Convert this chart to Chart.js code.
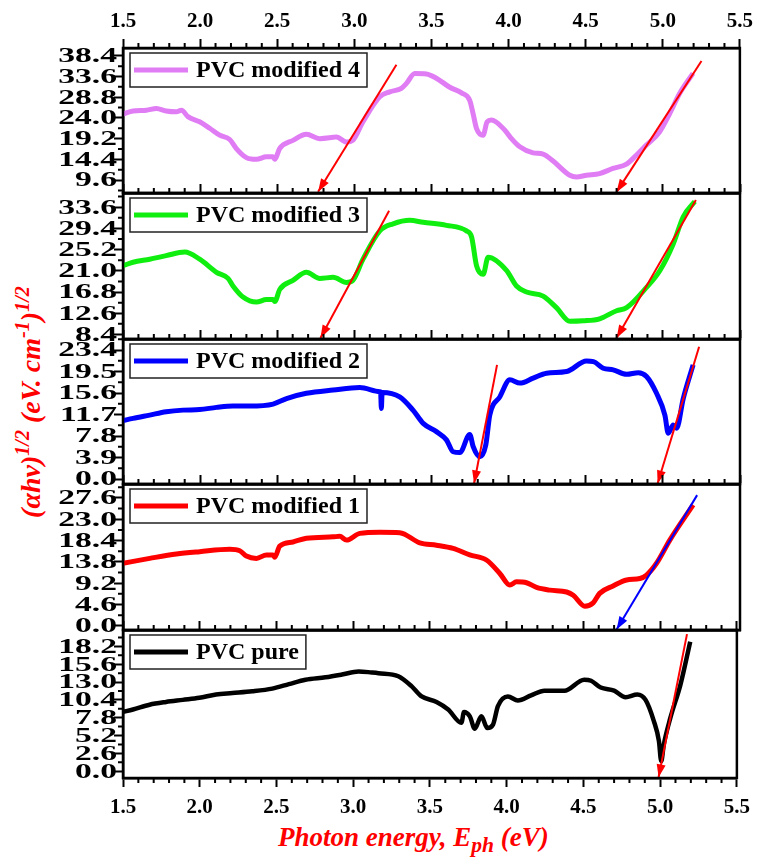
<!DOCTYPE html>
<html>
<head>
<meta charset="utf-8">
<script src="https://cdn.jsdelivr.net/npm/chart.js@4.4.1/dist/chart.umd.min.js"></script>
<style>
    body { margin: 0; background: #fff; width: 758px; height: 859px; position: relative; overflow: hidden; }
    canvas { position: absolute; left: 0; }
    .title { position: absolute; color: #f00; font: bold italic 28px "Liberation Serif", serif; white-space: nowrap; }
    #y-title { left: 29px; top: 402px; transform: translate(-50%, -50%) rotate(-90deg); }
    #x-title { left: 278px; top: 824px; font-size: 27px; line-height: 27px; }
    sup { font-size: 72%; }
    sub { font-size: 80%; }
</style>
</head>
<body>
<div class="title" id="y-title">(αhν)<sup>1/2</sup> (eV. cm<sup>-1</sup>)<sup>1/2</sup></div>
<div class="title" id="x-title">Photon energy, E<sub>ph</sub> (eV)</div>
<script>
// shared x axis
const xTicks = [1.5, 2.0, 2.5, 3.0, 3.5, 4.0, 4.5, 5.0, 5.5];

// PVC modified 4
const mod4X = [1.50, 1.565, 1.652, 1.717, 1.78, 1.846, 1.879, 1.921, 1.997, 2.062, 2.127, 2.192, 2.235, 2.30, 2.365, 2.43, 2.473, 2.484, 2.516, 2.602, 2.689, 2.776, 2.862, 2.884, 2.949, 2.99, 3.056, 3.165, 3.23, 3.305, 3.338, 3.392, 3.467, 3.532, 3.619, 3.695, 3.748, 3.77, 3.792, 3.835, 3.861, 3.889, 3.975, 4.019, 4.073, 4.159, 4.224, 4.289, 4.397, 4.44, 4.505, 4.59, 4.677, 4.765, 4.83, 4.894, 4.98, 5.045, 5.11, 5.196];
const mod4Y = [24.9, 25.6, 25.8, 26.2, 25.6, 25.4, 25.8, 24.3, 23.1, 21.6, 20.0, 19.0, 16.9, 14.8, 14.4, 15.0, 15.0, 14.4, 16.9, 18.8, 20.2, 19.2, 19.5, 19.6, 18.4, 18.8, 23.1, 28.9, 30.05, 30.85, 32.0, 34.3, 34.2, 33.2, 31.1, 29.8, 28.1, 25.0, 21.6, 20.0, 23.1, 23.5, 21.2, 19.2, 17.3, 15.9, 15.6, 14.0, 10.7, 10.3, 10.7, 11.1, 12.3, 13.3, 15.4, 17.7, 20.8, 25.0, 29.7, 34.3];
const mod4Ticks = [9.6, 14.4, 19.2, 24.0, 28.8, 33.6, 38.4];
const mod4Arrows = [[[3.273, 36.3], [2.765, 6.9]], [[5.251, 37.2], [4.70, 6.8]]];

// PVC modified 3
const mod3X = [1.50, 1.565, 1.673, 1.78, 1.90, 1.997, 2.106, 2.181, 2.213, 2.278, 2.365, 2.43, 2.473, 2.484, 2.516, 2.602, 2.689, 2.776, 2.862, 2.949, 2.99, 3.056, 3.165, 3.251, 3.359, 3.446, 3.597, 3.727, 3.76, 3.792, 3.835, 3.867, 3.986, 4.051, 4.116, 4.224, 4.31, 4.397, 4.483, 4.59, 4.70, 4.765, 4.894, 4.98, 5.067, 5.132, 5.207];
const mod3Y = [22.0, 22.7, 23.3, 24.0, 24.7, 23.3, 20.7, 19.5, 18.0, 15.8, 14.8, 15.3, 15.3, 14.9, 17.3, 19.1, 20.7, 19.5, 19.7, 18.7, 19.1, 23.3, 28.9, 30.3, 31.0, 30.6, 30.0, 28.9, 27.7, 22.0, 20.3, 23.7, 21.1, 18.0, 16.8, 16.0, 13.7, 11.0, 11.1, 11.5, 13.1, 13.7, 17.7, 21.0, 26.3, 31.7, 34.7];
const mod3Ticks = [8.4, 12.6, 16.8, 21.0, 25.2, 29.4, 33.6];
const mod3Arrows = [[[3.225, 32.9], [2.78, 7.7]], [[5.214, 35.0], [4.70, 7.7]]];

// PVC modified 2
const mod2X = [1.50, 1.565, 1.673, 1.78, 1.889, 1.997, 2.106, 2.213, 2.32, 2.473, 2.56, 2.689, 2.862, 3.035, 3.165, 3.17, 3.175, 3.18, 3.294, 3.38, 3.446, 3.532, 3.597, 3.64, 3.684, 3.748, 3.77, 3.813, 3.852, 3.878, 3.943, 4.008, 4.073, 4.159, 4.246, 4.376, 4.505, 4.55, 4.613, 4.678, 4.765, 4.84, 4.894, 4.959, 5.013, 5.035, 5.067, 5.089, 5.132, 5.196];
const mod2Y = [10.6, 11.0, 11.6, 12.2, 12.5, 12.6, 13.0, 13.25, 13.25, 13.6, 14.6, 15.55, 16.15, 16.6, 15.85, 15.8, 12.8, 15.7, 14.9, 12.5, 10.1, 8.6, 7.1, 4.95, 4.8, 8.1, 5.9, 4.05, 6.2, 11.6, 14.9, 18.0, 17.4, 18.3, 19.2, 19.5, 21.4, 21.3, 20.1, 19.8, 19.0, 19.3, 18.6, 15.55, 11.6, 8.3, 9.8, 9.2, 14.6, 20.7];
const mod2Ticks = [0.0, 3.9, 7.8, 11.7, 15.6, 19.5, 23.4];
const mod2Arrows = [[[3.925, 20.7], [3.776, -0.8]], [[5.235, 24.0], [4.966, -0.8]]];

// PVC modified 1
const mod1X = [1.50, 1.673, 1.846, 1.997, 2.192, 2.257, 2.30, 2.365, 2.43, 2.473, 2.484, 2.516, 2.602, 2.689, 2.862, 2.905, 2.949, 3.035, 3.165, 3.294, 3.424, 3.532, 3.64, 3.748, 3.856, 3.943, 4.008, 4.051, 4.116, 4.181, 4.268, 4.376, 4.419, 4.494, 4.548, 4.59, 4.677, 4.765, 4.851, 4.894, 4.959, 5.045, 5.196];
const mod1Y = [13.5, 14.55, 15.5, 16.0, 16.5, 16.2, 15.05, 14.55, 15.3, 15.3, 14.8, 17.2, 18.1, 18.9, 19.2, 19.3, 18.5, 19.95, 20.2, 20.1, 17.9, 17.4, 16.7, 15.3, 14.2, 11.3, 8.8, 9.5, 9.3, 8.3, 7.7, 7.3, 6.6, 4.25, 4.97, 7.0, 8.6, 9.9, 10.2, 10.95, 13.5, 18.5, 26.1];
const mod1Ticks = [0.0, 4.6, 9.2, 13.8, 18.4, 23.0, 27.6];
const mod1Arrows = [[[5.222, 28.2], [4.70, -0.8]]];

// PVC pure
const pureX = [1.50, 1.565, 1.673, 1.78, 1.889, 1.997, 2.106, 2.213, 2.343, 2.473, 2.581, 2.689, 2.819, 2.927, 3.035, 3.121, 3.165, 3.294, 3.38, 3.446, 3.543, 3.619, 3.705, 3.722, 3.76, 3.792, 3.835, 3.874, 3.911, 3.943, 4.008, 4.073, 4.159, 4.246, 4.376, 4.505, 4.55, 4.613, 4.70, 4.775, 4.851, 4.905, 4.959, 4.992, 5.007, 5.024, 5.067, 5.132, 5.196];
const pureY = [8.65, 9.0, 9.7, 10.1, 10.4, 10.7, 11.2, 11.4, 11.65, 12.05, 12.7, 13.35, 13.7, 14.1, 14.55, 14.4, 14.3, 13.85, 12.4, 10.9, 10.1, 9.0, 7.05, 8.65, 8.0, 6.2, 8.0, 6.3, 6.8, 9.5, 10.9, 10.3, 11.05, 11.75, 11.75, 13.35, 13.2, 12.2, 11.75, 10.8, 11.2, 10.4, 7.3, 4.4, 1.45, 3.9, 7.8, 12.6, 18.9];
const pureTicks = [0.0, 2.6, 5.2, 7.8, 10.4, 13.0, 15.6, 18.2];
const pureArrows = [[[5.175, 20.0], [4.99, -0.9]]];

// panels, top to bottom
const panels = [
    { label: 'PVC modified 4', color: '#E07CF4', x: mod4X, y: mod4Y, ticks: mod4Ticks, min: 6.6, max: 40.2, arrows: mod4Arrows, arrowColor: '#FF0000', top: 48, bottom: 193 },
    { label: 'PVC modified 3', color: '#10EE10', x: mod3X, y: mod3Y, ticks: mod3Ticks, min: 7.5, max: 36.4, arrows: mod3Arrows, arrowColor: '#FF0000', top: 193, bottom: 339 },
    { label: 'PVC modified 2', color: '#0000FF', x: mod2X, y: mod2Y, ticks: mod2Ticks, min: -0.9, max: 25.4, arrows: mod2Arrows, arrowColor: '#FF0000', top: 339, bottom: 484 },
    { label: 'PVC modified 1', color: '#FF0000', x: mod1X, y: mod1Y, ticks: mod1Ticks, min: -0.9, max: 30.6, arrows: mod1Arrows, arrowColor: '#0000FF', top: 484, bottom: 630 },
    { label: 'PVC pure', color: '#000000', x: pureX, y: pureY, ticks: pureTicks, min: -1.0, max: 20.6, arrows: pureArrows, arrowColor: '#FF0000', top: 630, bottom: 778 }
];

// minor ticks between the major ones
function minorTicks(major, parts, lo, hi) {
    const out = [];
    const step = major[1] - major[0];
    for (let v = major[0] - step; v <= major[major.length - 1] + step + 1e-9; v += step) {
        for (let k = 1; k < parts; k++) {
            const m = v + step * k / parts;
            if (m > lo + 1e-9 && m < hi - 1e-9) out.push(m);
        }
    }
    return out;
}

// frame, minor ticks, stretched y labels, legend and arrow heads
const panelDecor = {
    id: 'panelDecor',
    afterDatasetsDraw(chart) {
        const ctx = chart.ctx;
        chart.data.datasets.forEach((ds, i) => {
            if (!ds.isArrow) return;
            const pts = chart.getDatasetMeta(i).data;
            const a = pts[0], b = pts[1];
            const ang = Math.atan2(b.y - a.y, b.x - a.x);
            const len = 13, half = 4.5;
            ctx.save();
            ctx.fillStyle = ds.borderColor;
            ctx.beginPath();
            ctx.moveTo(b.x, b.y);
            ctx.lineTo(b.x - len * Math.cos(ang) + half * Math.sin(ang), b.y - len * Math.sin(ang) - half * Math.cos(ang));
            ctx.lineTo(b.x - len * Math.cos(ang) - half * Math.sin(ang), b.y - len * Math.sin(ang) + half * Math.cos(ang));
            ctx.closePath();
            ctx.fill();
            ctx.restore();
        });
    },
    afterDraw(chart, args, opts) {
        const ctx = chart.ctx;
        const area = chart.chartArea;
        const xs = chart.scales.x, ys = chart.scales.y;
        ctx.save();
        ctx.strokeStyle = '#000';
        ctx.lineWidth = 2.5;
        ctx.strokeRect(area.left, area.top, area.right - area.left, area.bottom - area.top);

        ctx.lineWidth = 2;
        ctx.beginPath();
        minorTicks(xTicks, 5, xs.min, xs.max).forEach(v => {
            const px = xs.getPixelForValue(v);
            ctx.moveTo(px, area.top);
            ctx.lineTo(px, area.top - 5);
            if (opts.bottomAxis) {
                ctx.moveTo(px, area.bottom);
                ctx.lineTo(px, area.bottom + 5);
            }
        });
        minorTicks(opts.ticks, 2, ys.min, ys.max).forEach(v => {
            const py = ys.getPixelForValue(v);
            ctx.moveTo(area.left, py);
            ctx.lineTo(area.left - 5, py);
        });
        ctx.stroke();

        // y tick labels, wide like the original
        ctx.font = 'bold 21px "Liberation Serif"';
        ctx.fillStyle = '#000';
        ctx.textAlign = 'right';
        ctx.textBaseline = 'middle';
        opts.ticks.forEach(v => {
            const py = ys.getPixelForValue(v);
            ctx.save();
            ctx.translate(area.left - 6, py + 1);
            ctx.scale(1.6, 1);
            ctx.fillText(v.toFixed(1), 0, 0);
            ctx.restore();
        });

        // legend box
        const bx = area.left + 7, by = area.top + 5, bh = 34;
        ctx.font = 'bold 24px "Liberation Serif"';
        ctx.textAlign = 'left';
        const bw = 66 + ctx.measureText(opts.label).width + 7;
        ctx.fillStyle = '#fff';
        ctx.fillRect(bx, by, bw, bh);
        ctx.lineWidth = 1.5;
        ctx.strokeStyle = '#222';
        ctx.strokeRect(bx, by, bw, bh);
        ctx.strokeStyle = opts.color;
        ctx.lineWidth = 5;
        ctx.beginPath();
        ctx.moveTo(bx + 4, by + bh / 2);
        ctx.lineTo(bx + 58, by + bh / 2);
        ctx.stroke();
        ctx.fillStyle = '#000';
        ctx.fillText(opts.label, bx + 66, by + bh / 2 + 1);
        ctx.restore();
    }
};

function buildPanel(p, index) {
    const first = index === 0;
    const last = index === panels.length - 1;
    const canvasTop = first ? 0 : p.top - 30;
    const canvasBottom = last ? 859 : p.bottom + 30;

    const canvas = document.createElement('canvas');
    canvas.width = 758;
    canvas.height = canvasBottom - canvasTop;
    canvas.style.top = canvasTop + 'px';
    document.body.appendChild(canvas);

    const datasets = [{
        data: p.x.map((v, i) => ({ x: v, y: p.y[i] })),
        borderColor: p.color,
        borderWidth: last ? 4.5 : 5,
        pointRadius: 0,
        cubicInterpolationMode: 'monotone',
        order: 1
    }];
    p.arrows.forEach(a => {
        datasets.push({
            data: a.map(pt => ({ x: pt[0], y: pt[1] })),
            borderColor: p.arrowColor,
            borderWidth: 2,
            pointRadius: 0,
            isArrow: true,
            clip: false,
            order: 0
        });
    });

    new Chart(canvas, {
        type: 'line',
        data: { datasets: datasets },
        options: {
            responsive: false,
            animation: false,
            devicePixelRatio: 1,
            layout: { padding: { left: 0, right: 18, top: 0, bottom: 0 } },
            plugins: {
                legend: { display: false },
                tooltip: { enabled: false },
                panelDecor: { label: p.label, color: p.color, ticks: p.ticks, bottomAxis: last }
            },
            scales: {
                x: {
                    type: 'linear',
                    position: 'top',
                    min: 1.5,
                    max: 5.5,
                    afterFit: s => { s.height = p.top - canvasTop; },
                    grid: { drawOnChartArea: false, drawTicks: true, tickLength: 9, tickWidth: 2, color: '#000' },
                    border: { display: true, width: 2.5, color: '#000' },
                    ticks: {
                        display: first,
                        stepSize: 0.5,
                        padding: 5,
                        color: '#000',
                        font: { family: 'Liberation Serif', weight: 'bold', size: 21 },
                        callback: v => v.toFixed(1)
                    }
                },
                x2: {
                    type: 'linear',
                    position: 'bottom',
                    min: 1.5,
                    max: 5.5,
                    afterFit: s => { s.height = canvasBottom - p.bottom; },
                    grid: { drawOnChartArea: false, drawTicks: last, tickLength: 9, tickWidth: 2, color: '#000' },
                    border: { display: true, width: 2.5, color: '#000' },
                    ticks: {
                        display: last,
                        stepSize: 0.5,
                        padding: 8,
                        color: '#000',
                        font: { family: 'Liberation Serif', weight: 'bold', size: 21 },
                        callback: v => v.toFixed(1)
                    }
                },
                y: {
                    type: 'linear',
                    position: 'left',
                    min: p.min,
                    max: p.max,
                    afterFit: s => { s.width = 123; },
                    afterBuildTicks: s => { s.ticks = p.ticks.map(v => ({ value: v })); },
                    grid: { drawOnChartArea: false, drawTicks: true, tickLength: 9, tickWidth: 2, color: '#000' },
                    border: { display: true, width: 2.5, color: '#000' },
                    ticks: { display: false }
                }
            }
        },
        plugins: [panelDecor]
    });
}

panels.forEach(buildPanel);
</script>
</body>
</html>
